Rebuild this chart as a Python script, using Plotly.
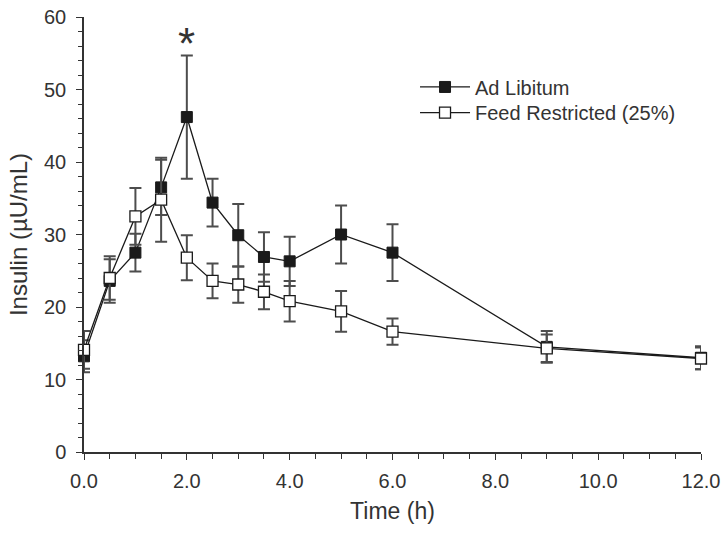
import plotly.graph_objects as go

time_h = [0, 0.5, 1.0, 1.5, 2.0, 2.5, 3.0, 3.5, 4.0, 5.0, 6.0, 9.0, 12.0]

ad_lib = [13.2, 23.6, 27.5, 36.5, 46.2, 34.4, 29.9, 26.9, 26.3, 30.0, 27.5, 14.5, 13.0]
ad_lib_err = [2.2, 3.0, 2.6, 3.8, 8.5, 3.3, 4.3, 3.4, 3.4, 4.0, 3.9, 2.2, 1.6]

feed_restr = [14.1, 24.0, 32.5, 34.8, 26.8, 23.6, 23.1, 22.1, 20.8, 19.4, 16.6, 14.3, 12.9]
feed_restr_err = [2.6, 3.0, 3.9, 5.8, 3.1, 2.4, 2.5, 2.4, 2.8, 2.8, 1.8, 1.9, 1.5]

series_names = ["Ad Libitum", "Feed Restricted (25%)"]
x_tickvals = [0, 2, 4, 6, 8, 10, 12]
x_ticktext = ["0.0", "2.0", "4.0", "6.0", "8.0", "10.0", "12.0"]

err_color = "#4d4d4d"
txt = "#333333"
fig = go.Figure()

fig.add_trace(go.Scatter(
    x=time_h, y=ad_lib, name=series_names[0], mode="lines+markers",
    line=dict(color="#1a1a1a", width=1.3),
    marker=dict(symbol="square", size=11, color="#1a1a1a", line=dict(color="#1a1a1a", width=1)),
    error_y=dict(type="data", array=ad_lib_err, visible=True, color=err_color, thickness=2, width=6),
    cliponaxis=False, legend="legend",
))
fig.add_trace(go.Scatter(
    x=time_h, y=feed_restr, name=series_names[1], mode="lines+markers",
    line=dict(color="#1a1a1a", width=1.3),
    marker=dict(symbol="square", size=11, color="white", line=dict(color="#1a1a1a", width=1.3)),
    error_y=dict(type="data", array=feed_restr_err, visible=True, color=err_color, thickness=2, width=6),
    cliponaxis=False, legend="legend2",
))

fig.add_annotation(x=2.0, y=56.4, text="*", showarrow=False,
                   font=dict(size=44, color="#333333", family="Liberation Sans, Arial"),
                   xanchor="center", yanchor="middle")

leg_common = dict(xanchor="left", yanchor="top", itemwidth=50,
                  bgcolor="rgba(0,0,0,0)", font=dict(size=20, color=txt))

fig.update_layout(
    width=728, height=534,
    margin=dict(l=84, r=27, t=17, b=82),
    paper_bgcolor="white", plot_bgcolor="white",
    font=dict(family="Liberation Sans, Arial, sans-serif", color=txt, size=20),
    showlegend=True,
    legend=dict(x=0.5365, y=0.884, **leg_common),
    legend2=dict(x=0.5365, y=0.825, **leg_common),
    xaxis=dict(
        range=[0, 12], tickvals=x_tickvals, ticktext=x_ticktext, automargin=False,
        showgrid=False, zeroline=False, showline=True, linecolor="#333333", linewidth=1.5,
        ticks="outside", ticklen=6, tickwidth=1.3, tickcolor="#333333",
        minor=dict(dtick=0.5, ticks="outside", ticklen=5, tickwidth=1.3, tickcolor="#333333"),
        title=dict(text="Time (h)", font=dict(size=23, color=txt), standoff=12),
        tickfont=dict(size=20, color=txt), ticklabelstandoff=4, ticklabeloverflow="allow",
    ),
    yaxis=dict(
        range=[0, 60], dtick=10, tick0=0, automargin=False,
        showgrid=False, zeroline=False, showline=True, linecolor="#333333", linewidth=1.5,
        ticks="outside", ticklen=6, tickwidth=1.3, tickcolor="#333333",
        minor=dict(dtick=2, ticks="outside", ticklen=4, tickwidth=1.3, tickcolor="#333333"),
        title=dict(text="Insulin (µU/mL)", font=dict(size=24, color=txt), standoff=10),
        tickfont=dict(size=20, color=txt), ticklabelstandoff=6, ticklabeloverflow="allow",
    ),
)

fig.write_html("out.html", config={"displayModeBar": False},
               post_script="document.body.style.margin='0';document.body.style.overflow='hidden';")
